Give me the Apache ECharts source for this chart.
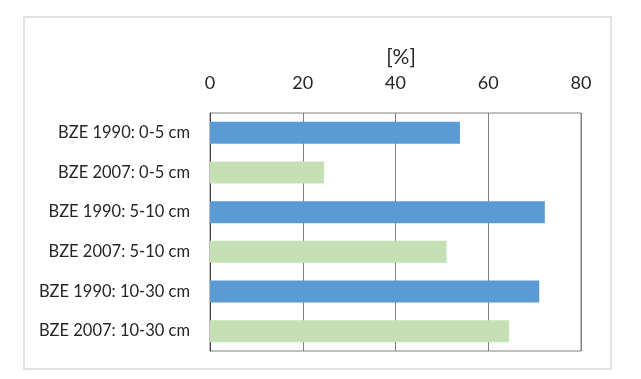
<!DOCTYPE html>
<html>
<head>
<meta charset="utf-8">
<script src="https://cdn.jsdelivr.net/npm/echarts@6/dist/echarts.min.js"></script>
<style>html,body{margin:0;padding:0;background:#fff;}#c{width:641px;height:379px;}</style>
</head>
<body>
<div id="c"></div>
<script>
const categories = ["BZE 1990: 0-5 cm", "BZE 2007: 0-5 cm", "BZE 1990: 5-10 cm", "BZE 2007: 5-10 cm", "BZE 1990: 10-30 cm", "BZE 2007: 10-30 cm"];
const values = [53.9, 24.6, 72.2, 51.0, 71.0, 64.5];
const barColors = ["#5b9bd5", "#c5e0b4", "#5b9bd5", "#c5e0b4", "#5b9bd5", "#c5e0b4"];
const xTicks = [0, 20, 40, 60, 80];
const axisTitle = "[%]";

const chart = echarts.init(document.getElementById('c'), null, {renderer: 'canvas'});
const font = 'Lato, "Open Sans", sans-serif';
chart.setOption({
  animation: false,
  textStyle: {fontFamily: font},
  title: {
    text: axisTitle, left: 396, top: 42, textAlign: 'center',
    textStyle: {fontSize: 21, fontWeight: 'normal', color: '#262626', fontFamily: font}
  },
  graphic: [{
    type: 'rect', shape: {x: 24, y: 17, width: 587, height: 352},
    style: {fill: 'none', stroke: '#d9d9d9', lineWidth: 1.5}, silent: true, z: -1
  }],
  grid: {left: 210, right: 60, top: 113, bottom: 28, show: true, borderColor: '#808080', borderWidth: 1},
  xAxis: {
    type: 'value', position: 'top', min: xTicks[0], max: xTicks[xTicks.length - 1], interval: 20,
    axisLine: {show: false}, axisTick: {show: false},
    axisLabel: {fontSize: 18, color: '#262626', margin: 21, fontFamily: font},
    splitLine: {show: true, lineStyle: {color: '#808080', width: 1}}
  },
  yAxis: {
    type: 'category', data: categories, inverse: true,
    axisLine: {show: true, lineStyle: {color: '#404040', width: 1}},
    axisTick: {show: false},
    axisLabel: {fontSize: 16.5, color: '#262626', margin: 20, fontFamily: font}
  },
  series: [{
    type: 'bar', barWidth: 22,
    data: values.map((v, i) => ({value: v, itemStyle: {color: barColors[i]}}))
  }]
});
</script>
</body>
</html>
